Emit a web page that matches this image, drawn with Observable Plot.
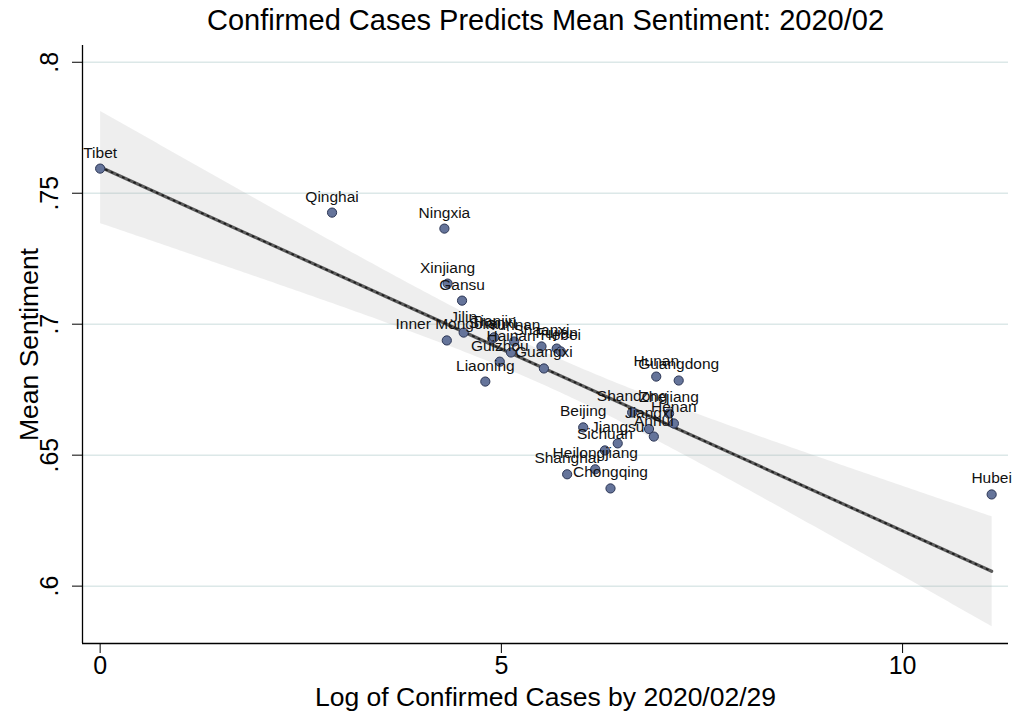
<!DOCTYPE html>
<html>
<head>
<meta charset="utf-8">
<script src="https://cdn.jsdelivr.net/npm/d3@7"></script>
<script src="https://cdn.jsdelivr.net/npm/@observablehq/plot@0.6"></script>
<style>
  html, body { margin: 0; padding: 0; background: #ffffff; }
  #chart { width: 1014px; height: 713px; }
</style>
</head>
<body>
<div id="chart"></div>
<script>
const provinces = ["Tibet","Qinghai","Ningxia","Xinjiang","Gansu","Inner Mongolia","Jilin","Shanxi","Tianjin","Guizhou","Liaoning","Hainan","Yunnan","Shaanxi","Fujian","Hebei","Guangxi","Beijing","Shanghai","Heilongjiang","Sichuan","Chongqing","Jiangsu","Shandong","Jiangxi","Anhui","Hunan","Zhejiang","Henan","Guangdong","Hubei"];
const logCases = [0, 2.89, 4.29, 4.33, 4.51, 4.32, 4.53, 4.89, 4.91, 4.98, 4.80, 5.12, 5.16, 5.50, 5.69, 5.74, 5.53, 6.02, 5.82, 6.17, 6.29, 6.36, 6.45, 6.63, 6.84, 6.90, 6.93, 7.09, 7.15, 7.21, 11.11];
const meanSentiment = [0.7594, 0.7426, 0.7365, 0.7155, 0.7090, 0.6938, 0.6968, 0.6945, 0.6950, 0.6857, 0.6781, 0.6892, 0.6934, 0.6915, 0.6907, 0.6896, 0.6831, 0.6606, 0.6427, 0.6446, 0.6518, 0.6373, 0.6545, 0.6663, 0.6600, 0.6571, 0.6800, 0.6659, 0.6621, 0.6785, 0.6350];
const xTicks = [0, 5, 10];
const yTicks = [0.6, 0.65, 0.7, 0.75, 0.8];
const yTickLabels = [".6", ".65", ".7", ".75", ".8"];
const titleText = "Confirmed Cases Predicts Mean Sentiment: 2020/02";
const xTitle = "Log of Confirmed Cases by 2020/02/29";
const yTitle = "Mean Sentiment";

const data = provinces.map((name, i) => ({name, x: logCases[i], y: meanSentiment[i]}));
const xDomain = [-0.22, 11.32];
const yDomain = [0.5781, 0.8064];
const font = "'Liberation Sans', Arial, Helvetica, sans-serif";

const chart = Plot.plot({
  width: 1014,
  height: 713,
  marginTop: 45,
  marginBottom: 70,
  marginLeft: 82,
  marginRight: 6,
  x: {domain: xDomain, label: null},
  y: {domain: yDomain, label: null},
  style: {fontFamily: font, background: "#ffffff", color: "#000"},
  marks: [
    Plot.gridY(yTicks, {stroke: "#dce8e8", strokeOpacity: 1, strokeWidth: 1.5}),
    Plot.linearRegressionY(data, {x: "x", y: "y", ci: 0.95, fill: "#a8a8a8", fillOpacity: 0.2, stroke: "#5c5c5c", strokeWidth: 3.2}),
    Plot.linearRegressionY(data, {x: "x", y: "y", ci: 0, stroke: "#1c1c1c", strokeWidth: 1.8, strokeDasharray: "1.2,5"}),
    Plot.dot(data, {x: "x", y: "y", r: 4.6, fill: "#65749a", stroke: "#2c3655", strokeWidth: 1}),
    Plot.text(data, {x: "x", y: "y", text: "name", dy: -16, fontSize: 15.5, fill: "#111"}),
    Plot.ruleX([xDomain[0]], {stroke: "#000", strokeWidth: 1.3}),
    Plot.ruleY([yDomain[0]], {stroke: "#000", strokeWidth: 1.3}),
    Plot.axisX(xTicks, {tickSize: 10, tickPadding: 3, fontSize: 25, label: null, stroke: "#000"}),
    Plot.axisY(yTicks, {tickSize: 10, tickFormat: () => "", label: null, stroke: "#000"}),
    Plot.text(yTicks, {y: d => d, text: (d, i) => yTickLabels[i], frameAnchor: "left", textAnchor: "middle", dx: -33, rotate: -90, lineAnchor: "middle", fontSize: 25, fill: "#000"}),
    Plot.text([titleText], {text: d => d, frameAnchor: "top", textAnchor: "middle", lineAnchor: "middle", dy: -25, fontSize: 29, fill: "#000"}),
    Plot.text([xTitle], {text: d => d, frameAnchor: "bottom", textAnchor: "middle", lineAnchor: "middle", dy: 54, fontSize: 26.5, fill: "#000"}),
    Plot.text([yTitle], {text: d => d, frameAnchor: "left", textAnchor: "middle", lineAnchor: "middle", dx: -53, rotate: -90, fontSize: 26.5, fill: "#000"})
  ]
});
document.getElementById("chart").append(chart);
</script>
</body>
</html>
